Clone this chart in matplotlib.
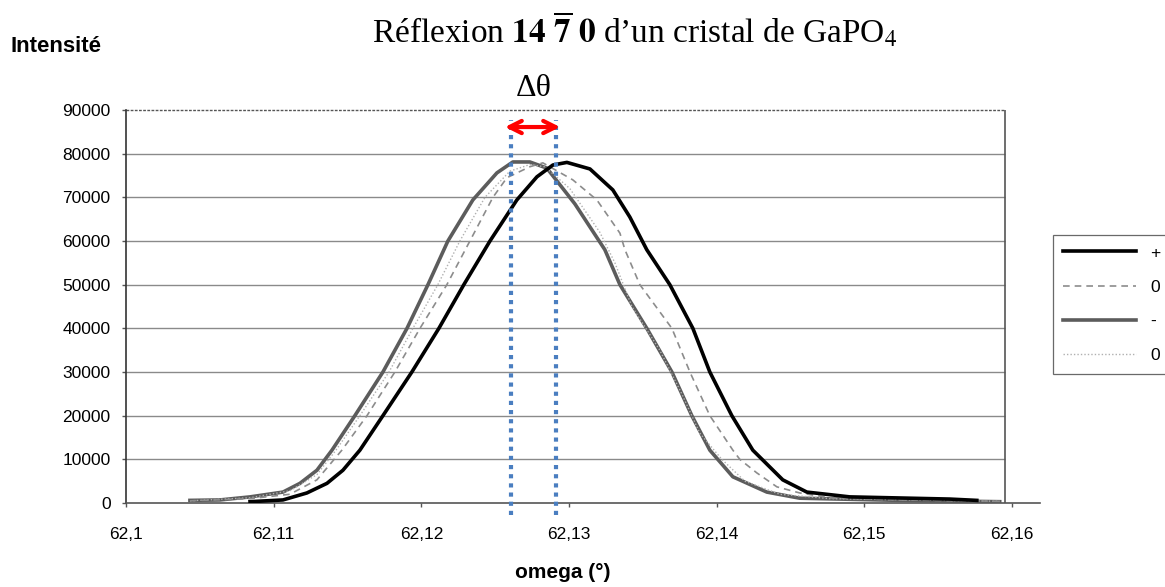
import matplotlib
matplotlib.use("Agg")
import matplotlib.pyplot as plt

plt.rcParams['mathtext.fontset'] = 'stix'

# ---------------- data ----------------
plus_omega = [62.10840, 62.11063, 62.11225, 62.11361, 62.11469, 62.11584, 62.11740,
              62.11936, 62.12119, 62.12288, 62.12465, 62.12647, 62.12783, 62.12891,
              62.12986, 62.13142, 62.13297, 62.13412, 62.13527, 62.13683, 62.13839,
              62.13954, 62.14103, 62.14245, 62.14448, 62.14611, 62.14902, 62.15579,
              62.15762]
plus_int = [300, 700, 2300, 4500, 7500, 12100, 20000,
            30000, 40000, 50000, 60000, 69400, 74700, 77400,
            78000, 76500, 71700, 65500, 58000, 50000, 40000,
            30000, 20000, 12100, 5300, 2500, 1400, 900,
            600]

zero_omega = [62.10433, 62.10840, 62.11110, 62.11293, 62.11462, 62.11632, 62.11821,
              62.11991, 62.12173, 62.12329, 62.12485, 62.12580, 62.12735, 62.12823,
              62.13026, 62.13189, 62.13345, 62.13379, 62.13480, 62.13697, 62.13819,
              62.13954, 62.14110, 62.14157, 62.14272, 62.14408, 62.14563, 62.14787,
              62.15240, 62.15917]
zero_int = [500, 1000, 2000, 5300, 12100, 20000, 30000,
            40000, 50000, 60000, 70000, 74500, 77000, 77900,
            74000, 69400, 61800, 58000, 50000, 40000, 30000,
            20000, 12100, 10000, 6900, 3700, 2300, 1100,
            700, 400]

minus_omega = [62.10433, 62.10636, 62.10840, 62.11063, 62.11178, 62.11293, 62.11395,
               62.11550, 62.11740, 62.11903, 62.12045, 62.12180, 62.12349, 62.12512,
               62.12620, 62.12735, 62.12850, 62.13040, 62.13243, 62.13345, 62.13527,
               62.13697, 62.13832, 62.13954, 62.14110, 62.14340, 62.14563, 62.15240,
               62.15917]
minus_int = [600, 700, 1400, 2500, 4500, 7500, 12100,
             20000, 30000, 40000, 50000, 60000, 69400, 75600,
             78100, 78100, 76700, 68500, 58000, 50000, 40000,
             30000, 20000, 12100, 6000, 2500, 1100, 600,
             300]

zero2_omega = [62.10433, 62.10840, 62.11110, 62.11293, 62.11422, 62.11584, 62.11781,
               62.11943, 62.12112, 62.12261, 62.12431, 62.12600, 62.12735, 62.12837,
               62.13006, 62.13209, 62.13311, 62.13426, 62.13615, 62.13764, 62.13886,
               62.14035, 62.14191, 62.14428, 62.14766, 62.15917]
zero2_int = [500, 1200, 2800, 6500, 12100, 20000, 30000,
             40000, 50000, 60000, 70000, 76000, 77500, 77000,
             72000, 62000, 55000, 45000, 35000, 25000, 16000,
             10000, 5000, 2000, 1000, 400]

series_labels = ["+", "0", "-", "0"]

x_ticks = [62.10, 62.11, 62.12, 62.13, 62.14, 62.15, 62.16]
x_tick_labels = ["62,1", "62,11", "62,12", "62,13", "62,14", "62,15", "62,16"]
y_ticks = [0, 10000, 20000, 30000, 40000, 50000, 60000, 70000, 80000, 90000]
y_tick_labels = ["0", "10000", "20000", "30000", "40000", "50000", "60000",
                 "70000", "80000", "90000"]

peak_left = 62.12607
peak_right = 62.12911

# ---------------- figure ----------------
W, H = 1165, 587
fig = plt.figure(figsize=(W / 100, H / 100), dpi=100)
ax = fig.add_axes([126 / W, 1 - 503 / H, 914 / W, 393 / H])

x_min, x_max = 62.1, 62.1619
x_frame = 62.1595
ax.set_xlim(x_min, x_max)
ax.set_ylim(0, 90000)

# gridlines (stop at the frame)
for yv in y_ticks[1:-1]:
    ax.hlines(yv, x_min, x_frame, color='#8a8a8a', lw=1.0, zorder=1)
ax.hlines(90000, x_min, x_frame, color='#555555', lw=1.0, linestyle=(0, (2, 1)), zorder=1, clip_on=False)
ax.vlines(x_frame, 0, 90000, color='#555555', lw=1.2, zorder=1)

ax.plot(plus_omega, plus_int, color='black', lw=2.6, label=series_labels[0], zorder=5)
ax.plot(zero_omega, zero_int, color='#8c8c8c', lw=1.2, linestyle=(0, (4, 3)), label=series_labels[1], zorder=4)
ax.plot(minus_omega, minus_int, color='#5c5c5c', lw=2.6, label=series_labels[2], zorder=3)
ax.plot(zero2_omega, zero2_int, color='#b0b0b0', lw=1.0, linestyle=(0, (1, 1.5)), label=series_labels[3], zorder=3)

# spines
for s in ['top', 'right']:
    ax.spines[s].set_visible(False)
ax.spines['left'].set_color('#333333')
ax.spines['left'].set_linewidth(1.2)
ax.spines['bottom'].set_color('#555555')
ax.spines['bottom'].set_linewidth(1.2)

ax.set_xticks(x_ticks)
ax.set_xticklabels(x_tick_labels, fontname='Liberation Sans', fontsize=12.5)
ax.set_yticks(y_ticks)
ax.set_yticklabels(y_tick_labels, fontname='Liberation Sans', fontsize=12.5)
ax.tick_params(axis='both', direction='out', length=3, width=1, color='#555555', pad=8)
ax.tick_params(axis='x', pad=14)

ax.set_xlabel("omega (°)", fontname='Liberation Sans', fontweight='bold', fontsize=15)
ax.xaxis.set_label_coords((563 - 126) / 914, (503 - 563) / 393)

# Δθ markers
ax.vlines([peak_left, peak_right], -2800, 87800, colors='#4a7ec0', lw=3,
          linestyles=(0, (1, 1.2)), zorder=6, clip_on=False)
ax.annotate("", xy=(62.12566, 86100), xytext=(62.12940, 86100),
            arrowprops=dict(arrowstyle='<->', color='#ff0000', lw=3,
                            mutation_scale=22, shrinkA=0, shrinkB=0),
            annotation_clip=False, zorder=7)
ax.text((peak_left + peak_right) / 2, 95000, "Δθ", fontname='Liberation Serif',
        fontsize=23, ha='center', va='center')

# title and y label
fig.text(635 / W, 1 - 30 / H, r"Réflexion $\mathbf{14\ \overline{7}\ 0}$ d’un cristal de GaPO$_4$",
         fontname='Liberation Serif', fontsize=24, ha='center', va='center')
fig.text(10 / W, 1 - 47 / H, "Intensité", fontname='Liberation Sans', fontweight='bold',
         fontsize=16, ha='left', va='center')

leg = ax.legend(loc='upper left', bbox_to_anchor=(1053 / W, 1 - 235 / H),
                bbox_transform=fig.transFigure, frameon=True, fancybox=False,
                edgecolor='#444444', handlelength=4.2, handletextpad=0.8,
                labelspacing=1.1, fontsize=12.5, borderpad=0.6, borderaxespad=0)
leg.get_frame().set_linewidth(0.9)
for t in leg.get_texts():
    t.set_fontname('Liberation Sans')

fig.savefig("out.png", dpi=100)
